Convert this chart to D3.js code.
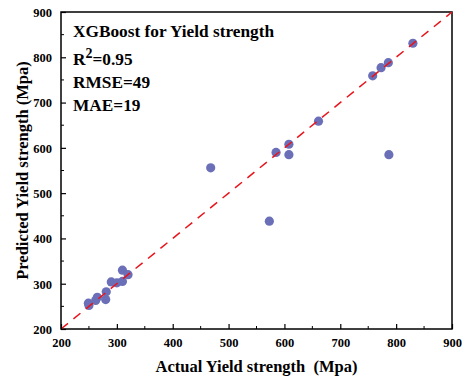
<!DOCTYPE html>
<html>
<head>
<meta charset="utf-8">
<script src="https://cdn.jsdelivr.net/npm/d3@7"></script>
<style>
  body { margin: 0; background: #fff; }
  text { font-family: "Liberation Serif", "Times New Roman", serif; font-weight: bold; white-space: pre; }
</style>
</head>
<body>
<div id="chart"></div>
<script>
// actual vs predicted yield strength (Mpa)
var actual    = [830, 786, 773, 758, 661, 468, 585, 608, 608, 787, 573, 250, 249, 262, 265, 280, 281, 290, 300, 310, 310, 320];
var predicted = [831, 788, 777, 759, 659, 556, 590, 608, 585, 585, 438, 252, 257, 263, 270, 265, 282, 304, 302, 305, 330, 320];
var ticks = [200, 300, 400, 500, 600, 700, 800, 900];
var metrics = ["RMSE=49", "MAE=19"];

var W = 462, H = 381;
var margin = {left: 61, right: 10, top: 12, bottom: 52};

var svg = d3.select("#chart").append("svg").attr("width", W).attr("height", H);

var x = d3.scaleLinear().domain([200, 900]).range([margin.left, W - margin.right]);
var y = d3.scaleLinear().domain([200, 900]).range([H - margin.bottom, margin.top]);

// frame
svg.append("rect")
  .attr("x", x(200)).attr("y", y(900))
  .attr("width", x(900) - x(200)).attr("height", y(200) - y(900))
  .attr("fill", "none").attr("stroke", "#000").attr("stroke-width", 1.5);

// points
svg.append("g").selectAll("circle")
  .data(actual)
  .enter()
  .append("circle")
  .attr("cx", function(d){ return x(d); })
  .attr("cy", function(d, i){ return y(predicted[i]); })
  .attr("r", 4.6)
  .attr("fill", "#6a6fb8");

// y = x reference line, drawn over the points
svg.append("line")
  .attr("x1", x(200)).attr("y1", y(200))
  .attr("x2", x(900)).attr("y2", y(900))
  .attr("stroke", "#e8141b").attr("stroke-width", 1.5)
  .attr("stroke-dasharray", "9,7");

// axes, ticks inward
var minor = d3.range(250, 900, 100);
var xAxis = svg.append("g").attr("transform", "translate(0," + y(200) + ")")
  .call(d3.axisBottom(x).tickValues(ticks).tickSize(-5).tickPadding(9).tickFormat(d3.format("d")));
xAxis.append("g").selectAll("line").data(minor).enter().append("line")
  .attr("x1", function(d){ return x(d); }).attr("x2", function(d){ return x(d); })
  .attr("y1", 0).attr("y2", -3).attr("stroke", "#000");
var yAxis = svg.append("g").attr("transform", "translate(" + x(200) + ",0)")
  .call(d3.axisLeft(y).tickValues(ticks).tickSize(-5).tickPadding(9).tickFormat(d3.format("d")));
yAxis.append("g").selectAll("line").data(minor).enter().append("line")
  .attr("y1", function(d){ return y(d); }).attr("y2", function(d){ return y(d); })
  .attr("x1", 0).attr("x2", 3).attr("stroke", "#000");
[xAxis, yAxis].forEach(function(a){
  a.select(".domain").remove();
  a.selectAll(".tick line").attr("stroke-width", 1.2);
  a.selectAll(".tick text").attr("font-size", 12.5).attr("fill", "#000");
});
yAxis.selectAll(".tick text").attr("dy", "0.35em");

// axis titles
svg.append("text")
  .attr("x", (x(200) + x(900)) / 2).attr("y", 372)
  .attr("text-anchor", "middle").attr("font-size", 16.5)
  .text("Actual Yield strength  (Mpa)");
svg.append("text")
  .attr("transform", "translate(28," + ((y(200) + y(900)) / 2) + ") rotate(-90)")
  .attr("text-anchor", "middle").attr("font-size", 16.5)
  .text("Predicted Yield strength (Mpa)");

// annotation
svg.append("text").attr("x", 73).attr("y", 37).attr("font-size", 17.3)
  .text("XGBoost for Yield strength");
var r2 = svg.append("text").attr("x", 73).attr("y", 65).attr("font-size", 17.3);
r2.append("tspan").text("R");
r2.append("tspan").attr("dy", -7).attr("font-size", 14).text("2");
r2.append("tspan").attr("dy", 7).text("=0.95");
svg.append("g").selectAll("text").data(metrics).enter().append("text")
  .attr("x", 73).attr("y", function(d, i){ return 88 + i * 23; })
  .attr("font-size", 17.3)
  .text(function(d){ return d; });
</script>
</body>
</html>
